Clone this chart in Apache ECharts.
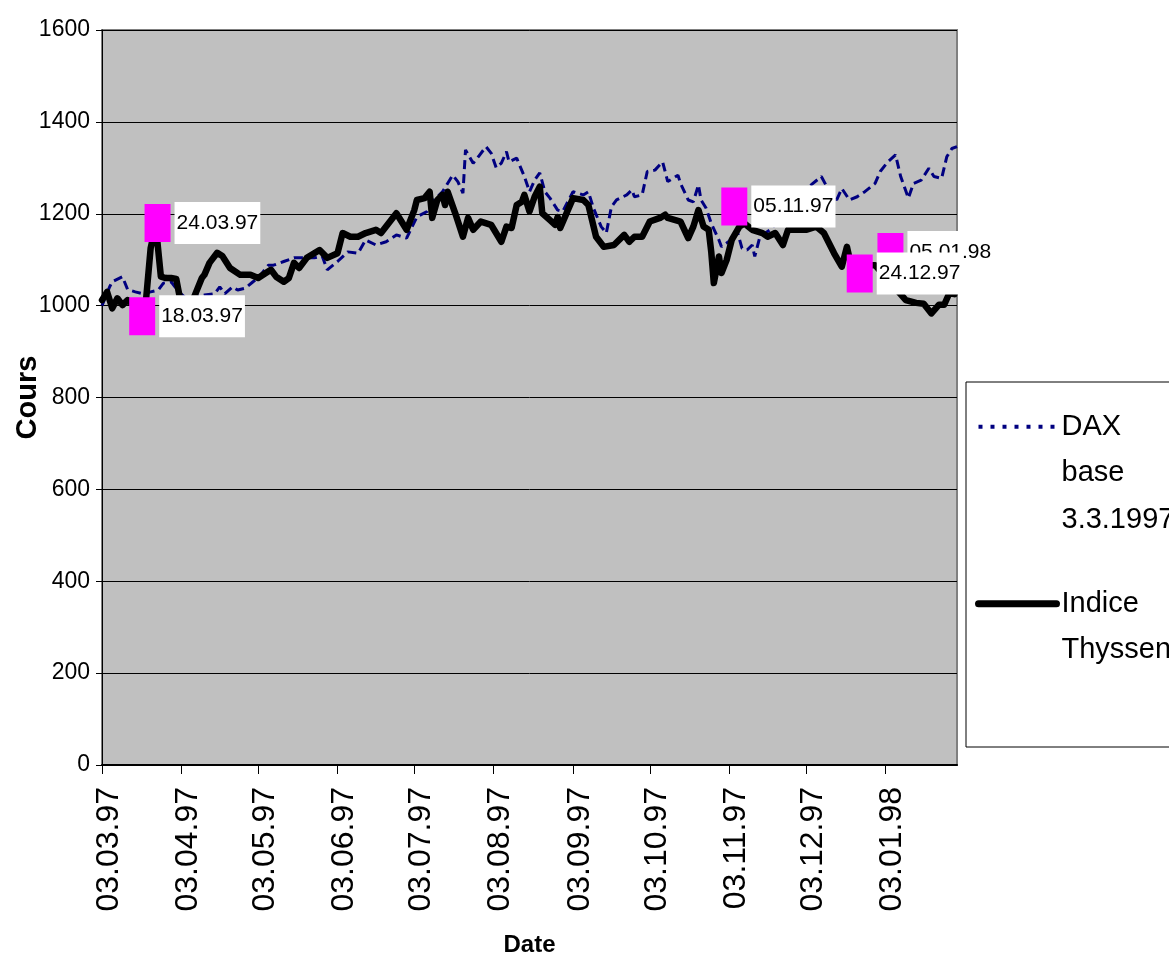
<!DOCTYPE html>
<html>
<head>
<meta charset="utf-8">
<title>DAX / Indice Thyssen</title>
<script src="https://cdn.jsdelivr.net/npm/echarts@6/dist/echarts.min.js"></script>
<style>
  html, body { margin: 0; padding: 0; background: #fff; }
  #chart { width: 1169px; height: 956px; }
</style>
</head>
<body>
<div id="chart"></div>
<script>
// x is counted in days since 03.03.97
const tickDays = [0, 31, 61, 92, 122, 153, 184, 214, 245, 275, 306];
const tickLabels = ['03.03.97', '03.04.97', '03.05.97', '03.06.97', '03.07.97', '03.08.97',
  '03.09.97', '03.10.97', '03.11.97', '03.12.97', '03.01.98'];

const daxName = 'DAX base 3.3.1997';
const thyssenName = 'Indice Thyssen';

const daxData = [
  [0, 1000], [3, 1041], [4, 1052], [8, 1063], [10, 1035], [13, 1030], [16, 1026], [19, 1030],
  [22, 1034], [24, 1049], [27, 1052], [30, 1030], [33, 1015], [36, 1019], [40, 1023], [44, 1026],
  [46, 1041], [48, 1026], [51, 1041], [53, 1034], [56, 1038], [59, 1052], [61, 1060], [65, 1088],
  [67, 1088], [71, 1096], [75, 1104], [79, 1104], [83, 1104], [86, 1108], [88, 1078], [92, 1096],
  [96, 1117], [100, 1114], [103, 1143], [107, 1132], [111, 1139], [115, 1154], [119, 1147],
  [123, 1193], [127, 1205], [129, 1226], [133, 1248], [137, 1284], [139, 1270], [141, 1245],
  [142, 1339], [145, 1310], [147, 1324], [150, 1346], [152, 1332], [154, 1300], [156, 1310],
  [158, 1335], [159, 1313], [162, 1321], [165, 1281], [167, 1248], [169, 1273], [171, 1289],
  [173, 1248], [175, 1234], [178, 1208], [180, 1205], [184, 1248], [188, 1241], [190, 1248],
  [192, 1212], [195, 1172], [197, 1158], [199, 1215], [201, 1230], [205, 1241], [207, 1252],
  [208, 1237], [211, 1241], [213, 1292], [216, 1295], [219, 1313], [221, 1270], [225, 1284],
  [226, 1266], [229, 1230], [231, 1226], [233, 1263], [234, 1230], [236, 1212], [238, 1179],
  [241, 1143], [242, 1128], [245, 1140], [248, 1165], [250, 1125], [252, 1121], [254, 1132],
  [255, 1107], [257, 1150], [261, 1165], [265, 1190], [270, 1220], [274, 1250], [277, 1263],
  [281, 1281], [284, 1250], [287, 1230], [289, 1255], [292, 1230], [295, 1237], [298, 1248],
  [302, 1266], [304, 1292], [307, 1313], [310, 1328], [312, 1281], [315, 1234], [317, 1266],
  [320, 1273], [323, 1299], [325, 1281], [328, 1277], [330, 1324], [332, 1342], [334, 1346]
];

const thyssenData = [
  [0, 1012], [2, 1030], [4, 994], [6, 1016], [8, 1001], [10, 1012], [12, 1003], [14, 990],
  [15, 980], [17, 1000], [19, 1125], [21, 1175], [23, 1063], [25, 1060], [27, 1060], [29, 1058],
  [31, 1000], [33, 975], [35, 990], [36, 1019], [39, 1060], [40, 1067], [42, 1093], [45, 1115],
  [47, 1108], [50, 1082], [54, 1067], [58, 1067], [61, 1060], [64, 1071], [66, 1078], [68, 1063],
  [71, 1052], [73, 1060], [75, 1093], [77, 1082], [80, 1104], [85, 1121], [88, 1104], [92, 1114],
  [94, 1158], [97, 1150], [100, 1150], [103, 1158], [107, 1165], [109, 1158], [115, 1201],
  [119, 1165], [122, 1208], [123, 1230], [126, 1234], [128, 1248], [129, 1191], [131, 1230],
  [133, 1241], [134, 1219], [135, 1248], [138, 1201], [141, 1150], [143, 1191], [145, 1165],
  [148, 1183], [152, 1176], [156, 1139], [158, 1172], [160, 1169], [162, 1219], [164, 1226],
  [165, 1241], [167, 1205], [169, 1237], [171, 1259], [172, 1201], [175, 1186], [177, 1176],
  [178, 1193], [179, 1169], [184, 1234], [188, 1230], [190, 1219], [193, 1150], [196, 1128],
  [200, 1132], [204, 1154], [206, 1139], [208, 1150], [211, 1150], [214, 1183], [218, 1191],
  [220, 1198], [221, 1191], [226, 1183], [229, 1147], [231, 1172], [233, 1208], [235, 1172],
  [237, 1165], [238, 1117], [239, 1049], [241, 1107], [242, 1071], [244, 1099], [246, 1143],
  [249, 1172], [251, 1179], [254, 1165], [258, 1158], [260, 1150], [263, 1158], [266, 1132],
  [268, 1165], [275, 1165], [279, 1172], [282, 1158], [286, 1114], [289, 1085], [291, 1128],
  [292, 1103], [296, 1088], [302, 1088], [308, 1050], [314, 1012], [318, 1006], [321, 1004],
  [324, 983], [327, 1002], [329, 1002], [331, 1027], [333, 1025]
];

// event markers (05.01.98 before 24.12.97 so the later label sits on top)
const eventLabels = ['18.03.97', '24.03.97', '05.11.97', '05.01.98', '24.12.97'];
const eventData = [[15.7, 977], [21.7, 1180], [247, 1216], [308, 1117], [296, 1070]];

const font = '"Liberation Sans", Arial, sans-serif';

const chart = echarts.init(document.getElementById('chart'), null, {renderer: 'canvas'});

// legend text is centred on the icon, so blank lines in front push the
// first word onto the icon row (like the excel legend)
const legendText = {};
legendText[daxName] = '\n\nDAX\nbase\n3.3.1997';
legendText[thyssenName] = '\nIndice\nThyssen';

const option = {
  animation: false,
  backgroundColor: '#fff',
  grid: {
    left: 102,
    right: 212,
    top: 30,
    bottom: 191,
    outerBoundsMode: 'none',
    containLabel: false,
    show: true,
    backgroundColor: '#C0C0C0',
    borderColor: '#808080',
    borderWidth: 2
  },
  graphic: [{
    type: 'rect',
    z: 1,
    shape: {x: 966, y: 382, width: 220, height: 365},
    style: {fill: '#fff', stroke: '#000', lineWidth: 1}
  }],
  legend: {
    orient: 'vertical',
    left: 975,
    top: 310.5,
    padding: 0,
    itemWidth: 78,
    itemHeight: 2,
    itemGap: -9,
    selectedMode: false,
    formatter: name => legendText[name],
    itemStyle: {opacity: 0},
    textStyle: {
      fontFamily: font,
      fontSize: 29,
      color: '#000',
      lineHeight: 46.5
    },
    data: [
      {name: daxName, lineStyle: {type: [4, 8], width: 4, cap: 'butt'}},
      {name: thyssenName, lineStyle: {width: 7, cap: 'round'}}
    ]
  },
  xAxis: {
    type: 'value',
    min: 0,
    max: 334,
    name: 'Date',
    nameLocation: 'middle',
    nameGap: 168,
    nameMoveOverlap: false,
    nameTextStyle: {fontFamily: font, fontSize: 24, fontWeight: 'bold', color: '#000'},
    axisLine: {show: true, onZero: false, lineStyle: {color: '#000', width: 2}},
    axisTick: {show: true, length: 9, customValues: tickDays, lineStyle: {color: '#000', width: 1}},
    axisLabel: {
      customValues: tickDays,
      formatter: v => tickLabels[tickDays.indexOf(v)],
      rotate: 90,
      margin: 22,
      verticalAlign: 'top',
      lineHeight: 14,
      fontFamily: font,
      fontSize: 32,
      color: '#000'
    },
    splitLine: {show: false}
  },
  yAxis: {
    type: 'value',
    min: 0,
    max: 1600,
    interval: 200,
    name: 'Cours',
    nameLocation: 'middle',
    nameGap: 60,
    nameMoveOverlap: false,
    nameTextStyle: {fontFamily: font, fontSize: 29, fontWeight: 'bold', color: '#000'},
    axisLine: {show: true, lineStyle: {color: '#000', width: 1}},
    axisTick: {show: true, length: 6, lineStyle: {color: '#000'}},
    axisLabel: {margin: 12, fontFamily: font, fontSize: 23, color: '#000', formatter: v => String(v)},
    splitLine: {show: true, lineStyle: {color: '#000', width: 1}}
  },
  series: [
    {
      name: daxName,
      type: 'line',
      data: daxData,
      symbol: 'none',
      color: '#000080',
      lineStyle: {color: '#000080', width: 3, type: [9, 5]}
    },
    {
      name: thyssenName,
      type: 'line',
      data: thyssenData,
      symbol: 'none',
      color: '#000',
      lineStyle: {color: '#000', width: 6.5, join: 'round', cap: 'round'}
    },
    {
      name: 'events',
      type: 'scatter',
      data: eventData,
      symbol: 'rect',
      symbolSize: [26, 38],
      itemStyle: {color: '#FF00FF', opacity: 1},
      label: {
        show: true,
        position: 'right',
        distance: 4,
        formatter: p => eventLabels[p.dataIndex],
        fontFamily: font,
        fontSize: 21,
        lineHeight: 26,
        color: '#000',
        backgroundColor: '#fff',
        padding: [8, 2, 8, 2]
      },
      z: 5
    }
  ]
};

chart.setOption(option);
</script>
</body>
</html>
